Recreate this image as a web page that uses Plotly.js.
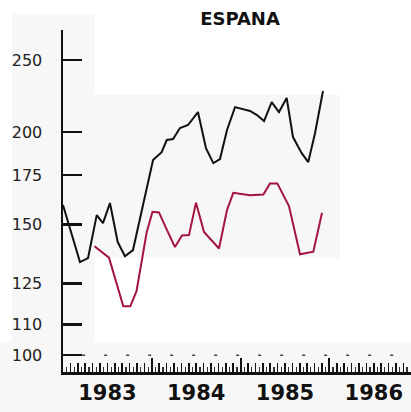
<!DOCTYPE html>
<html>
<head>
<meta charset="utf-8">
<script src="https://cdn.plot.ly/plotly-3.0.1.min.js"></script>
<style>html,body{margin:0;padding:0;background:#fff;}#chart{width:411px;height:412px;}</style>
</head>
<body>
<div id="chart"></div>
<script>
// Black series (decimal years, index values)
const blackX = [1983.000,1983.090,1983.191,1983.282,1983.380,1983.450,1983.529,1983.616,1983.698,1983.788,1983.901,
  1984.014,1984.111,1984.168,1984.239,1984.318,1984.408,1984.520,1984.610,1984.693,1984.768,1984.847,1984.937,
  1985.106,1985.185,1985.264,1985.350,1985.432,1985.519,1985.590,1985.688,1985.762,1985.838,1985.928];
const blackY = [159.4,146.6,133.5,135.2,154.5,150.7,160.4,142.1,136.0,138.6,159.4,
  183.3,187.9,195.1,195.7,202.5,204.4,212.8,190.2,181.6,183.9,201.3,216.1,
  213.5,210.8,206.9,219.5,212.8,222.3,196.9,187.3,182.2,199.3,227.2];
// Red series
const redX = [1983.355,1983.518,1983.679,1983.758,1983.828,1983.943,1984.008,1984.081,1984.166,1984.261,1984.340,
  1984.419,1984.498,1984.588,1984.757,1984.847,1984.918,1985.106,1985.256,1985.331,1985.413,1985.545,1985.669,
  1985.819,1985.917];
const redY = [140.3,135.4,116.4,116.4,122.0,146.6,156.1,155.8,147.9,139.9,145.0,
  145.2,160.6,146.6,139.3,157.0,165.6,164.4,164.7,170.5,170.5,158.9,136.8,
  137.9,155.6];
const yTicks = [100,110,125,150,175,200,250];
const years = [1983,1984,1985,1986];
const title = "ESPANA";

const xRange = [1983, 1986.919];
const yRange = [Math.log10(94.9), Math.log10(274.6)];

const traces = [
  {x: blackX, y: blackY, type:'scatter', mode:'lines', line:{color:'#111111', width:2}, hoverinfo:'skip'},
  {x: redX, y: redY, type:'scatter', mode:'lines', line:{color:'#a3143f', width:2}, hoverinfo:'skip'},
  {x: [], y: [], xaxis:'x2', yaxis:'y', type:'scatter', mode:'lines', hoverinfo:'skip', showlegend:false},
  {x: [], y: [], xaxis:'x3', yaxis:'y', type:'scatter', mode:'lines', hoverinfo:'skip', showlegend:false}
];

const gray = '#f7f7f7';
const layout = {
  width: 411, height: 412,
  margin: {l:63, r:0, t:30, b:40, pad:0},
  paper_bgcolor: '#ffffff', plot_bgcolor: 'rgba(0,0,0,0)',
  showlegend: false,
  title: {text: title, x: 240/411, xref:'container', xanchor:'center', y: 1-18.5/412, yref:'container', yanchor:'middle',
    font:{family:'DejaVu Sans', size:18, color:'#111', weight:'bold'}},
  xaxis: {
    type:'linear', range: xRange, showgrid:false, zeroline:false,
    tickmode:'array', tickvals: years.map(y=>y+0.5), ticktext: years.map(String),
    ticks:'', showline:true, linecolor:'#111', linewidth:2.5,
    ticklabelstandoff: 0,
    tickfont:{family:'DejaVu Sans', size:21, color:'#111', weight:600}
  },
  xaxis2: {
    type:'linear', range: xRange, overlaying:'x', anchor:'y', side:'bottom',
    showgrid:false, zeroline:false, showticklabels:false, showline:false,
    tickmode:'linear', tick0:1983, dtick:1, ticks:'inside', ticklen:14, tickwidth:2, tickcolor:'#111',
    minor:{tickmode:'linear', tick0:1983, dtick:1/12, ticks:'inside', ticklen:9, tickwidth:1.5, tickcolor:'#111', showgrid:false}
  },
  xaxis3: {
    type:'linear', range: xRange, overlaying:'x', anchor:'y', side:'bottom',
    showgrid:false, zeroline:false, showticklabels:false, showline:false,
    tickmode:'linear', tick0:1983+1/24, dtick:1/12, ticks:'inside', ticklen:5, tickwidth:1.2, tickcolor:'#333'
  },
  yaxis: {
    type:'log', range: yRange, showgrid:false, zeroline:false,
    tickmode:'array', tickvals: yTicks, ticktext: yTicks.map(String),
    ticks:'inside', ticklen:19, tickwidth:2.5, tickcolor:'#111',
    showline:true, linecolor:'#111', linewidth:2.5,
    ticklabelstandoff: 15,
    tickfont:{family:'DejaVu Sans', size:16, color:'#222'}
  },
  shapes: [
    {type:'rect', xref:'paper', yref:'paper', x0:-0.1466, x1:0.092, y0:-0.117, y1:1.047, fillcolor:gray, line:{width:0}, layer:'below'},
    {type:'rect', xref:'paper', yref:'paper', x0:0.092, x1:0.796, y0:0.333, y1:0.810, fillcolor:gray, line:{width:0}, layer:'below'},
    {type:'rect', xref:'paper', yref:'paper', x0:-0.181, x1:1.0, y0:-0.117, y1:0.0877, fillcolor:gray, line:{width:0}, layer:'below'},
    {type:'line', xref:'paper', yref:'y', x0:0.055, x1:1.0, y0:100, y1:100, line:{color:'#444', width:1.5, dash:'3px,19px'}, layer:'below'}
  ]
};

Plotly.newPlot('chart', traces, layout, {displayModeBar:false, staticPlot:true});
</script>
</body>
</html>
